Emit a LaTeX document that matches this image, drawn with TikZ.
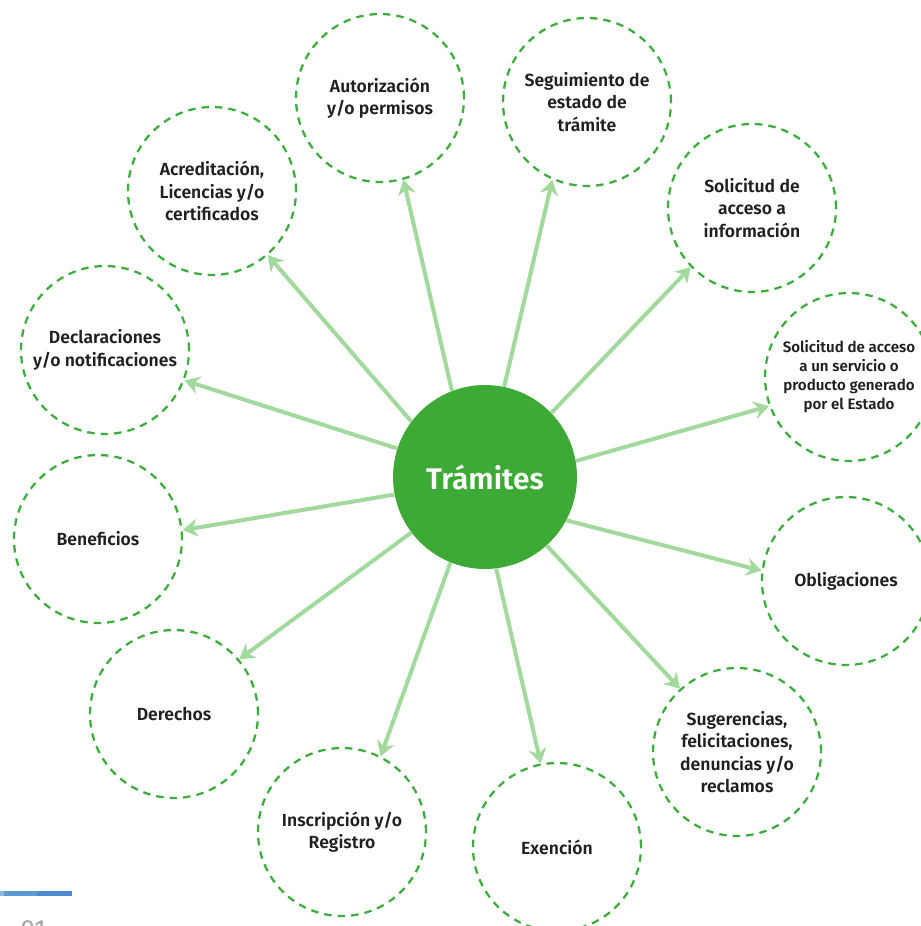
\documentclass[tikz,border=0pt]{standalone}
\usepackage{fontspec}
\setmainfont{Fira Sans}[BoldFont={Fira Sans SemiBold}]
\usetikzlibrary{arrows.meta,positioning}
\definecolor{govgreen}{HTML}{3DAA35}
\definecolor{dashgreen}{HTML}{3DAE3D}
\definecolor{palegreen}{HTML}{A2D99D}
\definecolor{inkgrey}{HTML}{231F20}
\definecolor{barlight}{HTML}{8DB8E0}
\definecolor{barmid}{HTML}{5E9AD2}
\definecolor{bardark}{HTML}{4B8BCB}

\begin{document}
\begin{tikzpicture}[
  x=0.02cm, y=-0.02cm,
  hub/.style={circle, fill=govgreen, minimum size=3.68cm, inner sep=0pt, text=white, font=\fontsize{17}{20}\selectfont\bfseries},
  topic/.style={circle, draw=dashgreen, line width=1.3pt, dash pattern=on 0.15cm off 0.12cm, minimum size=3.36cm, inner sep=0pt, align=center, text=inkgrey, font=\fontsize{10}{12.8}\selectfont\bfseries},
  small/.style={font=\fontsize{8.6}{10.8}\selectfont\bfseries},
  arr/.style={-{Stealth[length=3mm, width=3.6mm, inset=1mm]}, palegreen, line width=2.3pt}
]
\useasboundingbox (0,0) rectangle (920,926);

% hub and topics
\node[hub] (c) at (485,477) {Trámites};
\node[topic] (autoriz) at (380,98) {Autorización\\y/o permisos};
\node[topic] (seguim) at (587,102) {Seguimiento de\\estado de\\trámite};
\node[topic] (solinfo) at (752,208) {Solicitud de\\acceso a\\información};
\node[topic, small] (solserv) at (849,377) {Solicitud de acceso\\a un servicio o\\producto generado\\por el Estado};
\node[topic] (oblig) at (846,581) {Obligaciones};
\node[topic] (suger) at (737,752) {Sugerencias,\\felicitaciones,\\denuncias y/o\\reclamos};
\node[topic] (exenc) at (557,847) {Exención};
\node[topic] (inscrip) at (342,832) {Inscripción y/o\\Registro};
\node[topic] (derech) at (174,714) {Derechos};
\node[topic] (benef) at (98,539) {Beneficios};
\node[topic] (declar) at (105,350) {Declaraciones\\y/o notificaciones};
\node[topic] (acredit) at (212,191) {Acreditación,\\Licencias y/o\\certificados};

% spokes
\draw[arr] (c.111)--(autoriz.286); \draw[arr] (c.78)--(seguim.246);
\draw[arr] (c.44)--(solinfo.224); \draw[arr] (c.10)--(solserv.200);
\draw[arr] (c.332)--(oblig.173); \draw[arr] (c.312)--(suger.132);
\draw[arr] (c.277)--(exenc.101); \draw[arr] (c.248)--(inscrip.63);
\draw[arr] (c.217)--(derech.40); \draw[arr] (c.191)--(benef.6);
\draw[arr] (c.162)--(declar.339); \draw[arr] (c.143)--(acredit.311);

% page marker
\fill[barlight] (0,890.5) rectangle (4,896);
\fill[barmid] (4,890.5) rectangle (37,896);
\fill[bardark] (37,890.5) rectangle (72,896);
\node[anchor=north west, inner sep=0pt, text=gray!70, font=\fontsize{15}{18}\selectfont] (pagenum) at (20,920) {01};
\end{tikzpicture}
\end{document}
